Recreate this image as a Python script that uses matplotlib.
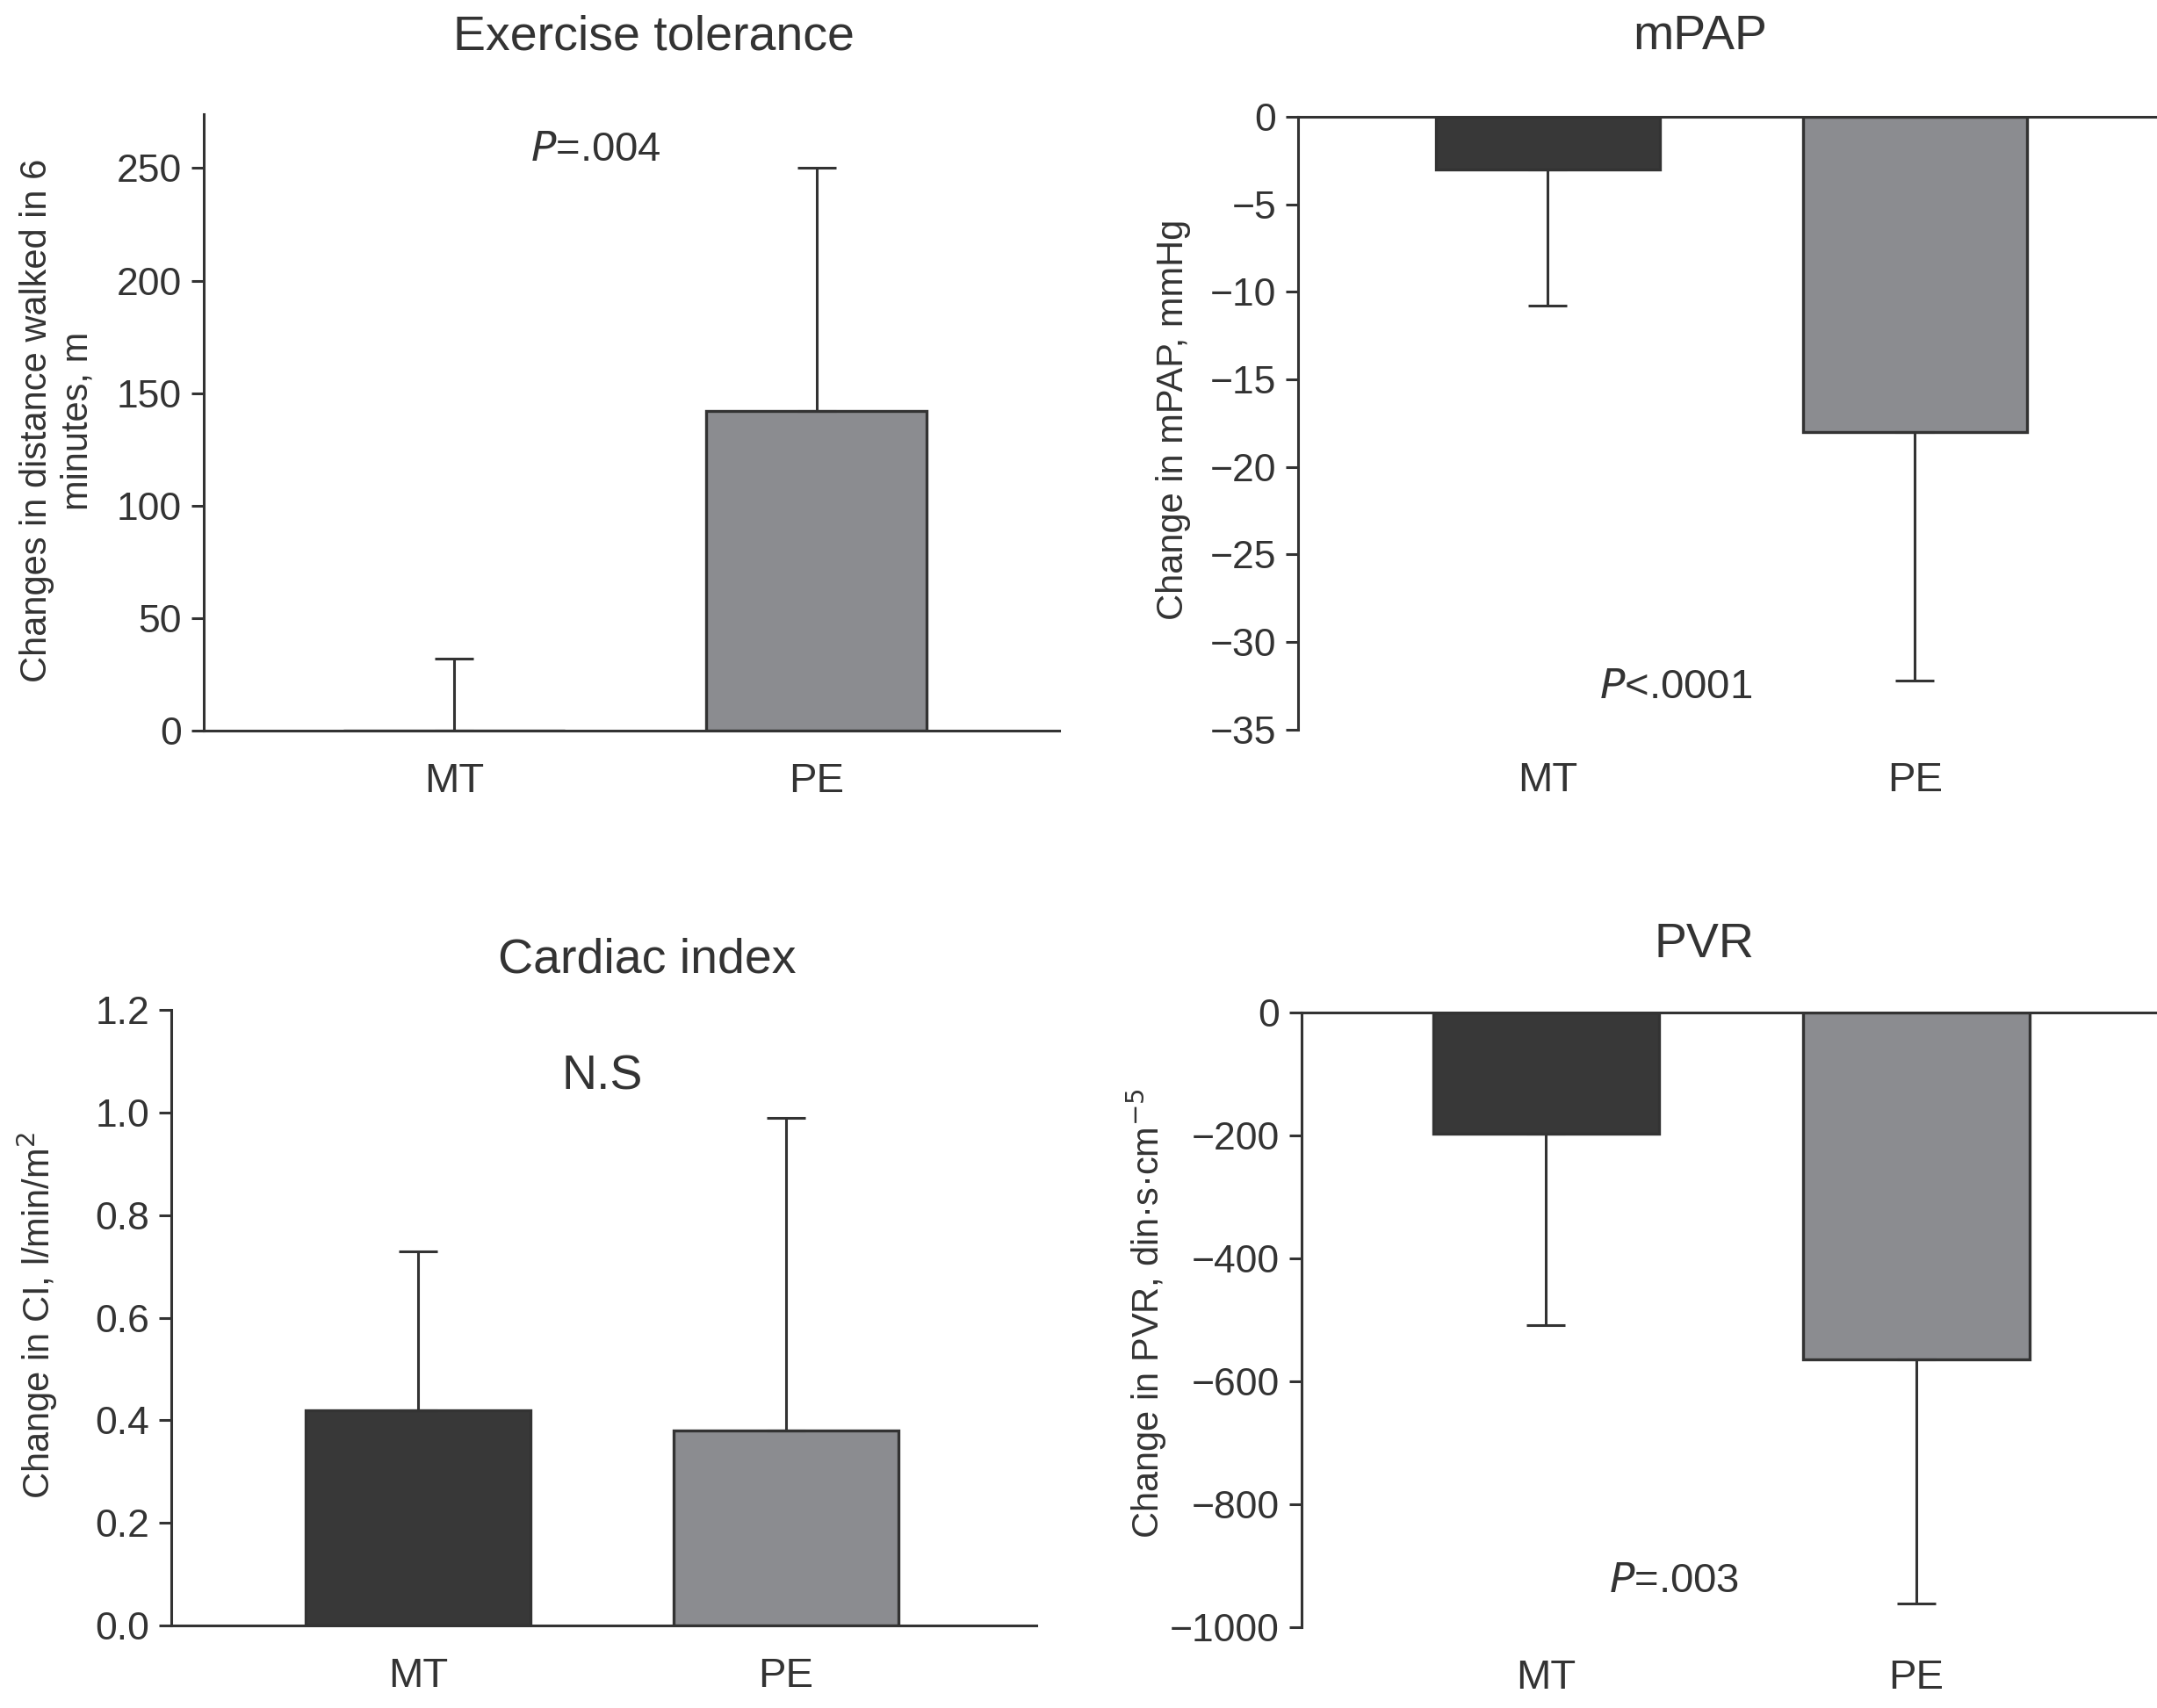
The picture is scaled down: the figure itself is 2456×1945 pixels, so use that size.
import matplotlib
matplotlib.use("Agg")
import matplotlib.pyplot as plt

plt.rcParams['font.family'] = ['Liberation Sans', 'DejaVu Sans']
plt.rcParams['text.color'] = '#333333'
plt.rcParams['axes.labelcolor'] = '#333333'
plt.rcParams['xtick.color'] = '#333333'
plt.rcParams['ytick.color'] = '#333333'

groups = ['MT', 'PE']
bar_colors = ['#383838', '#8b8c90']

# exercise tolerance (6 min walk), m
walk_mean = [0, 142]
walk_err = [32, 108]
# mPAP, mmHg
mpap_mean = [-3.0, -18.0]
mpap_err = [7.8, 14.2]
# cardiac index, l/min/m2
ci_mean = [0.42, 0.38]
ci_err = [0.31, 0.61]
# PVR, din.s.cm-5
pvr_mean = [-197, -565]
pvr_err = [311, 397]

fig = plt.figure(figsize=(12.28, 9.725), dpi=200)
ink = '#333333'


def panel(rect, means, errs, ylim, yticks, fmt, ylabel, label_xy,
          title, title_xy, note, note_xy, xlim, down=False, note_size=17):
    ax = fig.add_axes(rect)
    x = range(len(means))
    ax.bar(x, means, width=0.61, color=bar_colors, edgecolor=ink,
           linewidth=1.2, zorder=2)
    if down:
        yerr = [errs, [0] * len(errs)]
    else:
        yerr = [[0] * len(errs), errs]
    ax.errorbar(x, means, yerr=yerr, fmt='none', ecolor=ink,
                elinewidth=1.1, capsize=8, capthick=1.1, zorder=3)
    ax.set_xlim(*xlim)
    ax.set_ylim(*ylim)
    ax.set_yticks(yticks)
    ax.set_yticklabels([fmt.format(v).replace('-', '\u2212') for v in yticks])
    ax.set_xticks(list(x))
    ax.set_xticklabels(groups, fontsize=17)
    ax.tick_params(axis='x', length=0, pad=13)
    ax.tick_params(axis='y', length=5, width=1.1, labelsize=16, pad=4)
    ax.spines['right'].set_visible(False)
    if down:
        ax.spines['bottom'].set_visible(False)
        ax.spines['top'].set_linewidth(1.1)
        ax.spines['top'].set_color(ink)
    else:
        ax.spines['top'].set_visible(False)
        ax.spines['bottom'].set_linewidth(1.1)
        ax.spines['bottom'].set_color(ink)
    ax.spines['left'].set_linewidth(1.1)
    ax.spines['left'].set_color(ink)
    ax.set_ylabel(ylabel, fontsize=15)
    ax.yaxis.set_label_coords(*label_xy)
    fig.text(title_xy[0], title_xy[1], title, fontsize=20, ha='center',
             va='baseline')
    ax.text(note_xy[0], note_xy[1], note, fontsize=note_size, ha='center',
            va='center')
    return ax


panel([0.0945, 0.5722, 0.3966, 0.361], walk_mean, walk_err, (0, 274),
      [0, 50, 100, 150, 200, 250], '{:d}',
      'Changes in distance walked in 6\nminutes, m', (-0.127, 0.503),
      'Exercise tolerance', (0.303, 0.9712),
      r'$\it{P}$=.004', (0.39, 258), (-0.69, 1.67))

panel([0.6018, 0.5728, 0.3982, 0.3589], mpap_mean, mpap_err, (-35, 0),
      [0, -5, -10, -15, -20, -25, -30, -35], '{:d}',
      'Change in mPAP, mmHg', (-0.125, 0.506),
      'mPAP', (0.788, 0.9712),
      r'$\it{P}$<.0001', (0.35, -32.6), (-0.68, 1.66), down=True)

panel([0.0794, 0.0483, 0.401, 0.3604], ci_mean, ci_err, (0, 1.2),
      [0, 0.2, 0.4, 0.6, 0.8, 1.0, 1.2], '{:.1f}',
      'Change in CI, l/min/m$^2$', (-0.129, 0.504),
      'Cardiac index', (0.3, 0.4308),
      'N.S', (0.5, 1.07), (-0.67, 1.68), note_size=20)

panel([0.6034, 0.0473, 0.3966, 0.36], pvr_mean, pvr_err, (-1000, 0),
      [0, -200, -400, -600, -800, -1000], '{:d}',
      'Change in PVR, din\u00b7s\u00b7cm$^{-5}$', (-0.155, 0.51),
      'PVR', (0.79, 0.4396),
      r'$\it{P}$=.003', (0.345, -926), (-0.66, 1.65), down=True)

fig.savefig('out.png', dpi=200)
